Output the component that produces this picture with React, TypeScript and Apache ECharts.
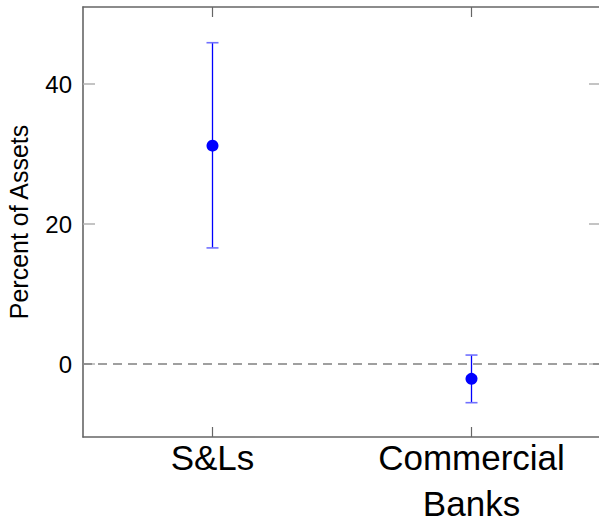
import React, { useEffect, useRef } from "react";
import * as echarts from "echarts";

const categories = ["S&Ls", "Commercial\nBanks"];
const means = [31.2, -2.1];
const lowers = [16.6, -5.5];
const uppers = [45.9, 1.3];
const yTicks = [0, 20, 40];
const yMin = -10.4;
const yMax = 51;

const FONT = "Liberation Sans";

export default function App() {
  const ref = useRef<HTMLDivElement>(null);
  useEffect(() => {
    if (!ref.current) return;
    const chart = echarts.init(ref.current, null, { renderer: "svg" });
    const axisColor = "#666666";
    const errData = categories.map((c, i) => [i, lowers[i], uppers[i]]);
    const xAxisBase = {
      type: "category",
      data: categories,
      boundaryGap: true,
      axisLine: { show: true, onZero: false, lineStyle: { color: axisColor, width: 1.6 } },
      axisTick: {
        show: true,
        inside: true,
        alignWithLabel: true,
        length: 10,
        lineStyle: { color: axisColor, width: 1.2 },
      },
      splitLine: { show: false },
    };
    chart.setOption({
      animation: false,
      backgroundColor: "#ffffff",
      textStyle: { fontFamily: FONT },
      grid: {
        left: 83,
        right: -2,
        top: 7,
        bottom: 88,
        containLabel: false,
        outerBoundsMode: "none",
      },
      xAxis: [
        {
          ...xAxisBase,
          position: "bottom",
          axisLabel: {
            color: "#000",
            fontSize: 35,
            lineHeight: 46,
            margin: -3,
            fontFamily: FONT,
          },
        },
        {
          ...xAxisBase,
          position: "top",
          axisLabel: { show: false },
        },
      ],
      yAxis: [
        {
          type: "value",
          min: yMin,
          max: yMax,
          position: "left",
          name: "Percent of Assets",
          nameLocation: "middle",
          nameRotate: 90,
          nameGap: 52,
          nameTextStyle: { color: "#000", fontSize: 25, fontFamily: FONT },
          axisLine: { show: true, onZero: false, lineStyle: { color: axisColor, width: 1.6 } },
          axisTick: {
            show: true,
            inside: true,
            length: 12,
            customValues: yTicks,
            lineStyle: { color: "#b0b0b0", width: 1.5 },
          },
          axisLabel: {
            color: "#000",
            fontSize: 24,
            margin: 11,
            customValues: yTicks,
            fontFamily: FONT,
          },
          splitLine: { show: false },
        },
        {
          type: "value",
          min: yMin,
          max: yMax,
          position: "right",
          axisLine: { show: true, onZero: false, lineStyle: { color: axisColor, width: 1.6 } },
          axisTick: {
            show: true,
            inside: true,
            length: 12,
            customValues: yTicks,
            lineStyle: { color: "#b0b0b0", width: 1.5 },
          },
          axisLabel: { show: false },
          splitLine: { show: false },
        },
      ],
      series: [
        {
          type: "custom",
          xAxisIndex: 0,
          yAxisIndex: 0,
          data: errData,
          z: 3,
          renderItem: (params: any, api: any) => {
            const x = api.value(0);
            const lo = api.coord([x, api.value(1)]);
            const hi = api.coord([x, api.value(2)]);
            const cap = 6;
            return {
              type: "group",
              children: [
                {
                  type: "line",
                  shape: { x1: lo[0], y1: lo[1], x2: hi[0], y2: hi[1] },
                  style: { stroke: "#0000ff", lineWidth: 1.3 },
                },
                {
                  type: "line",
                  shape: { x1: lo[0] - cap, y1: lo[1], x2: lo[0] + cap, y2: lo[1] },
                  style: { stroke: "#7070ff", lineWidth: 1.6 },
                },
                {
                  type: "line",
                  shape: { x1: hi[0] - cap, y1: hi[1], x2: hi[0] + cap, y2: hi[1] },
                  style: { stroke: "#7070ff", lineWidth: 1.6 },
                },
              ],
            };
          },
        },
        {
          type: "scatter",
          xAxisIndex: 0,
          yAxisIndex: 0,
          data: means.map((m, i) => [i, m]),
          symbol: "circle",
          symbolSize: 12,
          itemStyle: { color: "#0000ff", opacity: 1 },
          z: 4,
          markLine: {
            silent: true,
            symbol: "none",
            label: { show: false },
            lineStyle: { color: "#808080", type: [9, 6], width: 1.6 },
            data: [{ yAxis: 0 }],
          },
        },
      ],
    });
    return () => chart.dispose();
  }, []);
  return (
    <div
      ref={ref}
      style={{ position: "absolute", left: 0, top: 0, width: 599, height: 525 }}
    />
  );
}
